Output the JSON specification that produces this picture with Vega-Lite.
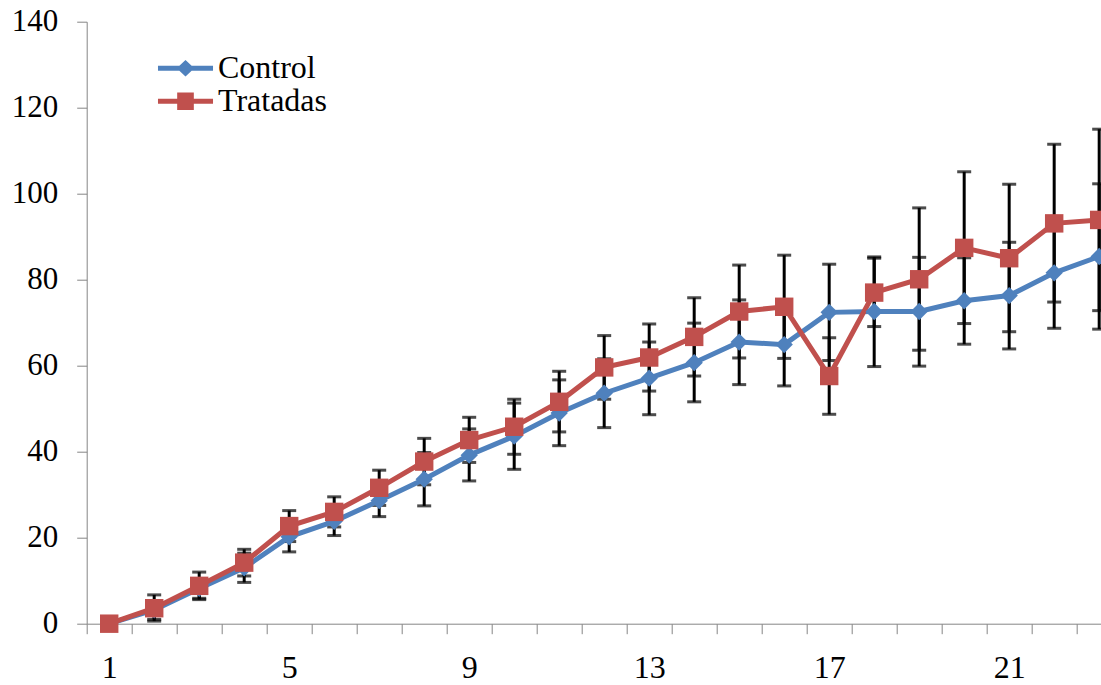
{
  "$schema": "https://vega.github.io/schema/vega-lite/v6.json",
  "width": 1035,
  "height": 602,
  "autosize": "none",
  "padding": {"left": 86.7, "top": 21.7, "right": 0, "bottom": 62},
  "background": "white",
  "config": {"view": {"stroke": null}, "font": "Liberation Serif"},
  "data": {"values": [
    {"day": 1, "series": "Control", "mean": 0, "lo": 0, "hi": 0},
    {"day": 2, "series": "Control", "mean": 3.2, "lo": 1.0, "hi": 5.4},
    {"day": 3, "series": "Control", "mean": 8.2, "lo": 5.9, "hi": 10.5},
    {"day": 4, "series": "Control", "mean": 13.0, "lo": 9.6, "hi": 16.4},
    {"day": 5, "series": "Control", "mean": 20.2, "lo": 16.7, "hi": 23.7},
    {"day": 6, "series": "Control", "mean": 23.8, "lo": 20.5, "hi": 27.1},
    {"day": 7, "series": "Control", "mean": 28.6, "lo": 24.9, "hi": 32.3},
    {"day": 8, "series": "Control", "mean": 33.6, "lo": 27.4, "hi": 39.8},
    {"day": 9, "series": "Control", "mean": 39.2, "lo": 33.2, "hi": 45.3},
    {"day": 10, "series": "Control", "mean": 43.6, "lo": 35.9, "hi": 51.3},
    {"day": 11, "series": "Control", "mean": 49.0, "lo": 41.4, "hi": 56.7},
    {"day": 12, "series": "Control", "mean": 53.6, "lo": 45.6, "hi": 61.6},
    {"day": 13, "series": "Control", "mean": 57.1, "lo": 48.6, "hi": 65.5},
    {"day": 14, "series": "Control", "mean": 60.7, "lo": 51.6, "hi": 69.9},
    {"day": 15, "series": "Control", "mean": 65.5, "lo": 55.6, "hi": 75.3},
    {"day": 16, "series": "Control", "mean": 64.9, "lo": 55.3, "hi": 74.5},
    {"day": 17, "series": "Control", "mean": 72.4, "lo": 61.2, "hi": 83.6},
    {"day": 18, "series": "Control", "mean": 72.6, "lo": 59.8, "hi": 85.3},
    {"day": 19, "series": "Control", "mean": 72.6, "lo": 59.9, "hi": 85.2},
    {"day": 20, "series": "Control", "mean": 75.1, "lo": 65.0, "hi": 85.1},
    {"day": 21, "series": "Control", "mean": 76.3, "lo": 63.9, "hi": 88.7},
    {"day": 22, "series": "Control", "mean": 81.6, "lo": 68.7, "hi": 94.5},
    {"day": 23, "series": "Control", "mean": 85.4, "lo": 68.5, "hi": 102.3},
    {"day": 1, "series": "Tratadas", "mean": 0, "lo": 0, "hi": 0},
    {"day": 2, "series": "Tratadas", "mean": 3.6, "lo": 0.6, "hi": 6.7},
    {"day": 3, "series": "Tratadas", "mean": 8.8, "lo": 5.6, "hi": 12.0},
    {"day": 4, "series": "Tratadas", "mean": 14.2, "lo": 11.1, "hi": 17.3},
    {"day": 5, "series": "Tratadas", "mean": 22.7, "lo": 19.1, "hi": 26.3},
    {"day": 6, "series": "Tratadas", "mean": 26.0, "lo": 22.5, "hi": 29.5},
    {"day": 7, "series": "Tratadas", "mean": 31.6, "lo": 27.5, "hi": 35.7},
    {"day": 8, "series": "Tratadas", "mean": 37.7, "lo": 32.3, "hi": 43.1},
    {"day": 9, "series": "Tratadas", "mean": 42.7, "lo": 37.5, "hi": 48.0},
    {"day": 10, "series": "Tratadas", "mean": 45.8, "lo": 39.4, "hi": 52.2},
    {"day": 11, "series": "Tratadas", "mean": 51.6, "lo": 44.6, "hi": 58.7},
    {"day": 12, "series": "Tratadas", "mean": 59.6, "lo": 52.2, "hi": 67.0},
    {"day": 13, "series": "Tratadas", "mean": 61.9, "lo": 54.1, "hi": 69.7},
    {"day": 14, "series": "Tratadas", "mean": 66.7, "lo": 57.6, "hi": 75.8},
    {"day": 15, "series": "Tratadas", "mean": 72.6, "lo": 61.8, "hi": 83.4},
    {"day": 16, "series": "Tratadas", "mean": 73.7, "lo": 61.7, "hi": 85.7},
    {"day": 17, "series": "Tratadas", "mean": 57.6, "lo": 48.7, "hi": 66.5},
    {"day": 18, "series": "Tratadas", "mean": 77.0, "lo": 69.1, "hi": 85.0},
    {"day": 19, "series": "Tratadas", "mean": 80.1, "lo": 63.6, "hi": 96.7},
    {"day": 20, "series": "Tratadas", "mean": 87.4, "lo": 69.8, "hi": 105.1},
    {"day": 21, "series": "Tratadas", "mean": 85.0, "lo": 67.9, "hi": 102.2},
    {"day": 22, "series": "Tratadas", "mean": 93.1, "lo": 74.8, "hi": 111.5},
    {"day": 23, "series": "Tratadas", "mean": 93.9, "lo": 72.8, "hi": 115.0}
  ]},
  "encoding": {
    "x": {
      "field": "day", "type": "ordinal",
      "scale": {"type": "band", "paddingInner": 0, "paddingOuter": 0},
      "axis": {
        "title": null, "labelAngle": 0, "tickBand": "extent", "tickSize": 10,
        "labelExpr": "(datum.value - 1) % 4 === 0 ? datum.label : ''",
        "labelOverlap": false, "labelBound": false,
        "labelFont": "Liberation Serif", "labelFontSize": 32, "labelColor": "black",
        "labelPadding": 19, "domainColor": "#868686", "tickColor": "#868686",
        "grid": false
      }
    }
  },
  "layer": [
    {
      "mark": {"type": "errorbar", "ticks": {"size": 14, "thickness": 3, "color": "black"}, "rule": {"strokeWidth": 3, "color": "black"}},
      "encoding": {
        "y": {"field": "lo", "type": "quantitative", "scale": {"domain": [0, 140], "nice": false},
          "axis": {
            "title": null, "values": [0, 20, 40, 60, 80, 100, 120, 140], "grid": false,
            "tickSize": 10, "labelPadding": 19, "labelFont": "Liberation Serif", "labelFontSize": 31,
            "labelColor": "black", "domainColor": "#868686", "tickColor": "#868686"
          }},
        "y2": {"field": "hi"},
        "detail": {"field": "series"}
      }
    },
    {
      "mark": {"type": "line", "strokeWidth": 5},
      "encoding": {
        "y": {"field": "mean", "type": "quantitative"},
        "color": {
          "field": "series", "type": "nominal",
          "scale": {"domain": ["Control", "Tratadas"], "range": ["#4F81BD", "#C0504D"]},
          "legend": {
            "title": null, "orient": "none", "legendX": 82.8, "legendY": 30.6,
            "padding": 0, "rowPadding": 1, "symbolSize": 1024, "labelOffset": 16.5,
            "labelFont": "Liberation Serif", "labelFontSize": 32, "labelColor": "black",
            "encode": {
              "symbols": {"update": {
                "shape": {"signal": "datum.value === 'Control' ? 'M-1.72,-0.156H1.72V0.156H-1.72Z M0,-0.52L0.55,0L0,0.52L-0.55,0Z' : 'M-1.72,-0.156H1.72V0.156H-1.72Z M-0.52,-0.55H0.52V0.55H-0.52Z'"},
                "fill": {"signal": "datum.value === 'Control' ? '#4F81BD' : '#C0504D'"},
                "stroke": {"value": "transparent"},
                "strokeWidth": {"value": 0},
                "size": {"value": 1024},
                "opacity": {"value": 1}
              }}
            }
          }
        }
      }
    },
    {
      "transform": [{"filter": "datum.series === 'Control'"}],
      "mark": {"type": "point", "filled": true, "opacity": 1, "shape": "diamond", "size": 300, "color": "#4F81BD"},
      "encoding": {
        "y": {"field": "mean", "type": "quantitative"}
      }
    },
    {
      "transform": [{"filter": "datum.series === 'Tratadas'"}],
      "mark": {"type": "point", "filled": true, "opacity": 1, "shape": "square", "size": 340, "color": "#C0504D"},
      "encoding": {
        "y": {"field": "mean", "type": "quantitative"}
      }
    }
  ]
}
